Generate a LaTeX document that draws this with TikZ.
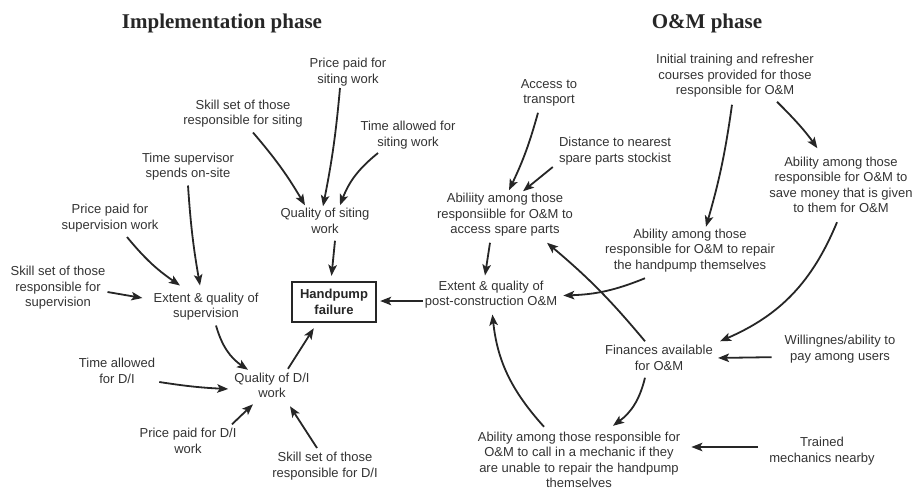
\documentclass[tikz,border=0pt]{standalone}
\usepackage{fontspec}
\setmainfont{Liberation Sans}
\newfontfamily\titlefont{Liberation Serif}
\usetikzlibrary{arrows.meta}
\begin{document}
\begin{tikzpicture}[x=1pt,y=-1pt,
  lbl/.style={align=center,inner sep=2pt,font=\fontsize{13}{15.5}\selectfont,text=black!80},
  ttl/.style={font=\titlefont\bfseries\fontsize{21}{24}\selectfont,text=black!85},
  fbox/.style={draw=black!85,line width=2.4pt,align=center,minimum width=84pt,minimum height=40pt,inner sep=0pt,font=\bfseries\fontsize{13}{15.5}\selectfont,text=black!85},
  arr/.style={draw=black!85,line width=1.8pt,-{Stealth[length=11pt,width=8.5pt,inset=2.5pt]}}]
\useasboundingbox (0,0) rectangle (914,491);
% titles
\node[ttl] (t1) at (222,23) {Implementation phase};
\node[ttl] (t2) at (707,23) {O\&M phase};
% left nodes
\node[lbl] (ps) at (348,72) {Price paid for\\siting work};
\node[lbl] (ss) at (243,113.5) {Skill set of those\\responsible for siting};
\node[lbl] (ts) at (408,135) {Time allowed for\\siting work};
\node[lbl] (tsup) at (188,166.5) {Time supervisor\\spends on-site};
\node[lbl] (qs) at (325,221) {Quality of siting\\work};
\node[lbl] (psup) at (110,218) {Price paid for\\supervision work};
\node[lbl] (ssup) at (58,288) {Skill set of those\\responsible for\\supervision};
\node[lbl] (esup) at (206,306.5) {Extent \& quality of\\supervision};
\node[fbox] (hf) at (334,302) {Handpump\\failure};
\node[lbl] (td) at (117,371) {Time allowed\\for D/I};
\node[lbl] (qd) at (272,385.5) {Quality of D/I\\work};
\node[lbl] (pd) at (188,441) {Price paid for D/I\\work};
\node[lbl] (sd) at (325,466) {Skill set of those\\responsible for D/I};
% right nodes
\node[lbl] (it) at (735,76) {Initial training and refresher\\courses provided for those\\responsible for O\&M};
\node[lbl] (acc) at (549,93) {Access to\\transport};
\node[lbl] (dist) at (615,151) {Distance to nearest\\spare parts stockist};
\node[lbl] (save) at (841,185) {Ability among those\\responsible for O\&M to\\save money that is given\\to them for O\&M};
\node[lbl] (asp) at (505,215) {Abiliity among those\\responsiible for O\&M to\\access spare parts};
\node[lbl] (rep) at (690,250.5) {Ability among those\\responsible for O\&M to repair\\the handpump themselves};
\node[lbl] (ep) at (491,294.5) {Extent \& quality of\\post-construction O\&M};
\node[lbl] (fin) at (659,358) {Finances available\\for O\&M};
\node[lbl] (will) at (840,349) {Willingnes/ability to\\pay among users};
\node[lbl] (call) at (579,460) {Ability among those responsible for\\O\&M to call in a mechanic if they\\are unable to repair the handpump\\themselves};
\node[lbl] (tm) at (822,451) {Trained\\mechanics nearby};
% left connectors
\draw[arr] ([xshift=-8pt]ps.south) to[bend left=3] ([xshift=-2pt]qs.north);
\draw[arr] ([xshift=10pt,yshift=-3pt]ss.south) to[bend left=5] ([xshift=-20pt,yshift=1pt]qs.north);
\draw[arr] ([xshift=-30pt,yshift=-2pt]ts.south) to[bend right=15] ([xshift=15pt,yshift=1pt]qs.north);
\draw[arr,shorten >=5pt] ([xshift=10pt,yshift=-5pt]qs.south) -- ([xshift=-3pt]hf.north);
\draw[arr] ([yshift=-3pt]tsup.south) to[bend right=3] ([xshift=-6pt,yshift=5pt]esup.north);
\draw[arr] ([xshift=17pt,yshift=-3pt]psup.south) to[bend right=8] ([xshift=-26pt,yshift=5pt]esup.north);
\draw[arr] ([yshift=-4pt]ssup.east) -- ([yshift=8.5pt,xshift=-9pt]esup.west);
\draw[arr,shorten >=3pt] ([yshift=-6.5pt]ep.west) -- ([yshift=1pt]hf.east);
\draw[arr] ([xshift=10pt,yshift=-3pt]esup.south) to[bend right=20] ([xshift=-24pt,yshift=1pt]qd.north);
\draw[arr] ([yshift=-11pt,xshift=2pt]td.east) to[bend right=3] ([yshift=-3.5pt,xshift=-4pt]qd.west);
\draw[arr] ([xshift=44pt,yshift=2pt]pd.north) -- ([xshift=-19pt,yshift=-4pt]qd.south);
\draw[arr] ([xshift=-8pt,yshift=2pt]sd.north) -- ([xshift=18pt,yshift=-6pt]qd.south);
\draw[arr,shorten >=6pt] ([xshift=16pt,yshift=2pt]qd.north) -- ([xshift=-17pt]hf.south);
% right connectors
\draw[arr] ([xshift=-11pt,yshift=-4pt]acc.south) to[bend left=5] ([xshift=4pt,yshift=1pt]asp.north);
\draw[arr] ([xshift=-4pt]dist.south west) -- ([xshift=18pt]asp.north);
\draw[arr] ([xshift=-3pt,yshift=-5pt]it.south) to[bend left=4] ([xshift=16pt]rep.north);
\draw[arr,shorten >=8pt] ([xshift=42pt,yshift=-2pt]it.south) to[bend left=5] ([xshift=-19pt]save.north);
\draw[arr] ([xshift=-4pt,yshift=-7pt]save.south) to[bend left=22] ([xshift=5pt,yshift=2pt]fin.north east);
\draw[arr] ([xshift=-15pt,yshift=-4pt]asp.south) -- ([xshift=-6pt,yshift=3pt]ep.north);
\draw[arr] ([xshift=-45pt,yshift=-4pt]rep.south) to[bend left=10] ([xshift=4pt,yshift=-1pt]ep.east);
\draw[arr] ([xshift=-14pt,yshift=2pt]fin.north) to[bend right=5] ([xshift=42pt,yshift=-4pt]asp.south);
\draw[arr,shorten <=11pt,shorten >=3pt] ([yshift=-8pt]will.west) -- ([yshift=0pt]fin.east);
\draw[arr] ([xshift=-14pt,yshift=-5pt]fin.south) to[bend left=20] ([xshift=34pt,yshift=4pt]call.north);
\draw[arr,shorten >=4pt] ([xshift=-35pt,yshift=3pt]call.north) to[bend left=18] ([xshift=1pt]ep.south);
\draw[arr,shorten <=9pt,shorten >=9pt] ([yshift=4pt]tm.west) -- ([yshift=13pt]call.east);
\end{tikzpicture}
\end{document}
